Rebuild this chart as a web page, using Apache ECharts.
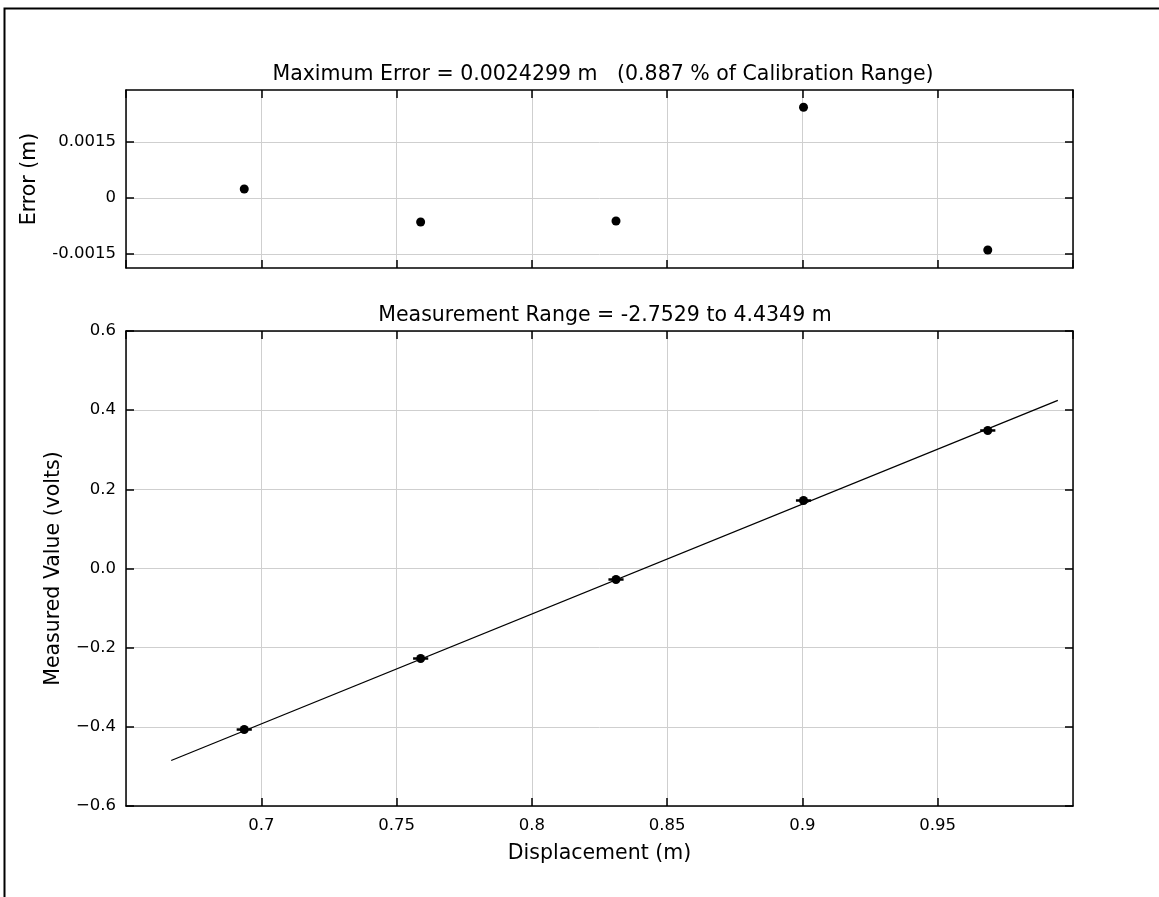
<!DOCTYPE html>
<html lang="en">
<head>
    <meta charset="UTF-8">
    <title>Calibration</title>
    <style>
        html, body { margin: 0; padding: 0; background: #fff; }
        #main { width: 1159px; height: 897px; }
    </style>
    <script src="https://cdn.jsdelivr.net/npm/echarts@6/dist/echarts.min.js"></script>
</head>
<body>
    <div id="main"></div>
    <script type="text/javascript">
        // measured points (displacement in m, value in volts)
        var displacement = [0.6937, 0.7589, 0.8311, 0.9004, 0.9685];
        var measured = [-0.4068, -0.2274, -0.0278, 0.1718, 0.3487];
        // horizontal error on each point (m)
        var xErr = [0.0028, 0.0028, 0.0028, 0.0028, 0.0028];
        // calibration error at each point (m)
        var calError = [0.000241, -0.000643, -0.000616, 0.0024299, -0.001393];
        // fitted line end points
        var fitX = [0.6667, 0.9944];
        var fitY = [-0.4851, 0.4245];
        // tick values
        var errTicks = [-0.0015, 0, 0.0015];
        var errTickLabels = ['-0.0015', '0', '0.0015'];

        var FONT = 'DejaVu Sans';
        var tickFont = { fontFamily: FONT, fontSize: 16.5, color: '#000' };
        var bigFont = { fontFamily: FONT, fontSize: 20.5, color: '#000' };

        function pairs(xs, ys) {
            return xs.map(function (x, i) { return [x, ys[i]]; });
        }

        // common x axis settings
        function xAx(grid, pos, labels) {
            return {
                type: 'value', gridIndex: grid, position: pos,
                min: 0.65, max: 1.0, interval: 0.05,
                axisLine: { show: true, onZero: false, lineStyle: { color: '#000', width: 1.5 } },
                axisTick: { show: true, inside: true, length: 8, lineStyle: { color: '#000', width: 1.5 } },
                axisLabel: {
                    show: labels, showMinLabel: false, showMaxLabel: false, margin: 11,
                    formatter: function (v) { return String(+v.toFixed(2)); },
                    fontFamily: FONT, fontSize: 16.5, color: '#000'
                },
                splitLine: { show: pos === 'bottom', lineStyle: { color: '#cfcfcf', width: 1 } }
            };
        }

        var errAxisBase = {
            type: 'value', gridIndex: 0,
            min: -0.001875, max: 0.002893,
            axisLine: { show: true, lineStyle: { color: '#000', width: 1.5 } },
            axisTick: { show: true, inside: true, length: 8, customValues: errTicks, lineStyle: { color: '#000', width: 1.5 } }
        };

        var voltAxisBase = {
            type: 'value', gridIndex: 1,
            min: -0.6, max: 0.6, interval: 0.2,
            axisLine: { show: true, lineStyle: { color: '#000', width: 1.5 } },
            axisTick: { show: true, inside: true, length: 8, lineStyle: { color: '#000', width: 1.5 } }
        };

        var option = {
            backgroundColor: '#fff',
            animation: false,
            title: [{
                text: 'Maximum Error = 0.0024299 m   (0.887 % of Calibration Range)',
                left: 598, top: 59, textAlign: 'center',
                textStyle: Object.assign({ fontWeight: 'normal' }, bigFont)
            }, {
                text: 'Measurement Range = -2.7529 to 4.4349 m',
                left: 600, top: 300, textAlign: 'center',
                textStyle: Object.assign({ fontWeight: 'normal' }, bigFont)
            }],
            graphic: [{
                type: 'polyline',
                shape: { points: [[4.5, 897], [4.5, 8.5], [1159, 8.5]] },
                style: { stroke: '#000', lineWidth: 2, fill: null }
            }],
            grid: [
                { left: 126, right: 86, top: 90, height: 178 },
                { left: 126, right: 86, top: 331, height: 475 }
            ],
            xAxis: [
                xAx(0, 'bottom', false),
                xAx(0, 'top', false),
                Object.assign(xAx(1, 'bottom', true), {
                    name: 'Displacement (m)', nameLocation: 'middle', nameGap: 37,
                    nameTextStyle: bigFont
                }),
                xAx(1, 'top', false)
            ],
            yAxis: [
                Object.assign({}, errAxisBase, {
                    position: 'left',
                    name: 'Error (m)', nameLocation: 'middle', nameGap: 86,
                    nameTextStyle: bigFont,
                    axisLabel: Object.assign({
                        customValues: errTicks, margin: 10,
                        formatter: function (v) {
                            var i = errTicks.indexOf(+v);
                            return i >= 0 ? errTickLabels[i] : '';
                        }
                    }, tickFont),
                    splitLine: { show: true, lineStyle: { color: '#cfcfcf', width: 1 } }
                }),
                Object.assign({}, errAxisBase, {
                    position: 'right',
                    axisLabel: { show: false },
                    splitLine: { show: false }
                }),
                Object.assign({}, voltAxisBase, {
                    position: 'left',
                    name: 'Measured Value (volts)', nameLocation: 'middle', nameGap: 62,
                    nameTextStyle: bigFont,
                    axisLabel: Object.assign({
                        margin: 10,
                        formatter: function (v) { return v.toFixed(1).replace('-', '\u2212'); }
                    }, tickFont),
                    splitLine: { show: true, lineStyle: { color: '#cfcfcf', width: 1 } }
                }),
                Object.assign({}, voltAxisBase, {
                    gridIndex: 1, position: 'right',
                    axisLabel: { show: false },
                    splitLine: { show: false }
                })
            ],
            series: [{
                // calibration errors
                type: 'scatter', xAxisIndex: 0, yAxisIndex: 0,
                symbol: 'circle', symbolSize: 9,
                itemStyle: { color: '#000', opacity: 1 },
                data: pairs(displacement, calError)
            }, {
                // fit line
                type: 'line', xAxisIndex: 2, yAxisIndex: 2,
                showSymbol: false,
                lineStyle: { color: '#000', width: 1.3 },
                data: pairs(fitX, fitY)
            }, {
                // horizontal error bars
                type: 'custom', xAxisIndex: 2, yAxisIndex: 2,
                renderItem: function (params, api) {
                    var x = api.value(0), y = api.value(1), e = api.value(2);
                    var p1 = api.coord([x - e, y]);
                    var p2 = api.coord([x + e, y]);
                    return {
                        type: 'line',
                        shape: { x1: p1[0], y1: p1[1], x2: p2[0], y2: p2[1] },
                        style: { stroke: '#000', lineWidth: 2.5 }
                    };
                },
                data: displacement.map(function (x, i) { return [x, measured[i], xErr[i]]; })
            }, {
                // measured points
                type: 'scatter', xAxisIndex: 2, yAxisIndex: 2,
                symbol: 'circle', symbolSize: 9,
                itemStyle: { color: '#000', opacity: 1 },
                data: pairs(displacement, measured)
            }]
        };

        var myChart = echarts.init(document.getElementById('main'));
        myChart.setOption(option);
    </script>
</body>
</html>
